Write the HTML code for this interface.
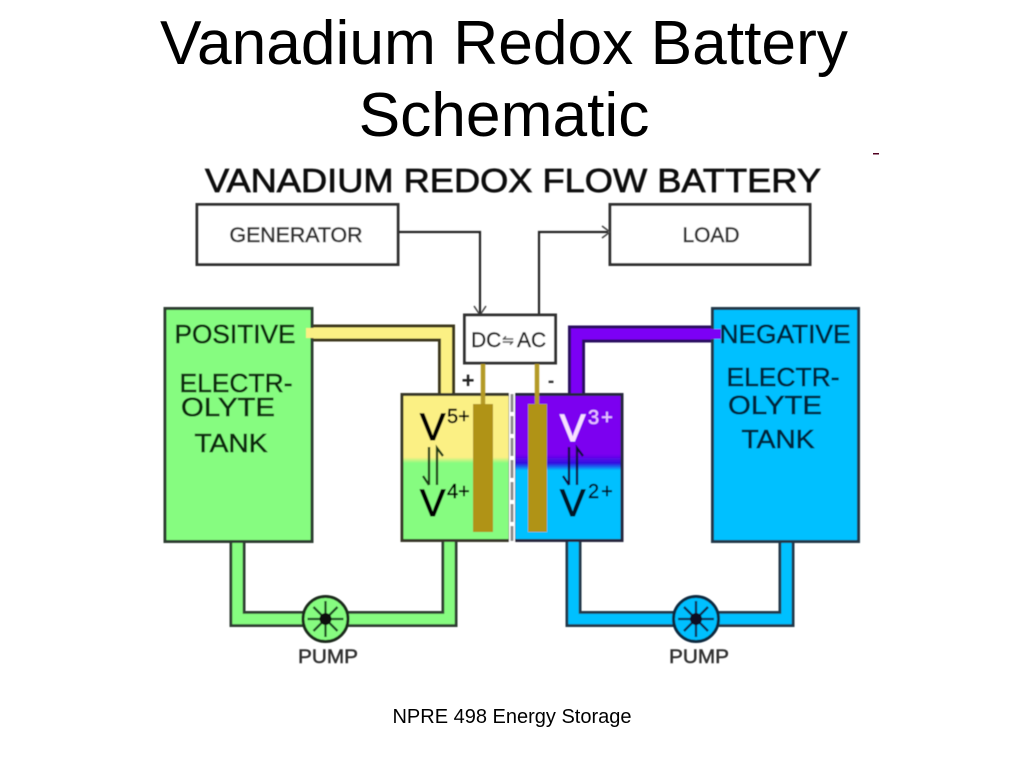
<!DOCTYPE html>
<html>
<head>
<meta charset="utf-8">
<style>
html,body{margin:0;padding:0;background:#fff;width:1024px;height:768px;overflow:hidden}
svg{display:block;position:absolute;left:0;top:0}
text{font-family:"Liberation Sans",sans-serif}
</style>
</head>
<body>
<svg width="1024" height="768" viewBox="0 0 1024 768" xmlns="http://www.w3.org/2000/svg">
<defs>
<filter id="b" x="-5%" y="-5%" width="110%" height="110%"><feGaussianBlur stdDeviation="0.5"/></filter>
<linearGradient id="gl" x1="0" y1="0" x2="0" y2="1">
<stop offset="0.43" stop-color="#fbf084"/><stop offset="0.47" stop-color="#86fc80"/>
</linearGradient>
<linearGradient id="gr" x1="0" y1="0" x2="0" y2="1">
<stop offset="0.41" stop-color="#7b00f0"/><stop offset="0.47" stop-color="#3210e0"/><stop offset="0.52" stop-color="#00c0ff"/>
</linearGradient>
</defs>

<text x="504" y="64" font-size="62.300" text-anchor="middle" fill="#000">Vanadium Redox Battery</text>
<text x="504" y="136" font-size="62.300" text-anchor="middle" fill="#000">Schematic</text>
<rect x="873" y="153" width="6" height="1.500" fill="#500020"/>
<text x="512" y="723" font-size="20" text-anchor="middle" fill="#000">NPRE 498 Energy Storage</text>

<g filter="url(#b)">
<text x="513" y="192" font-size="33" text-anchor="middle" fill="#111" stroke="#111" stroke-width="0.700" textLength="616" lengthAdjust="spacingAndGlyphs">VANADIUM REDOX FLOW BATTERY</text>

<!-- boxes -->
<rect x="197" y="204.500" width="201" height="60" fill="#fff" stroke="#303030" stroke-width="3"/>
<rect x="610" y="204.500" width="200" height="60" fill="#fff" stroke="#303030" stroke-width="3"/>
<text x="296" y="242" font-size="21" text-anchor="middle" fill="#333" stroke="#333" stroke-width="0.600" textLength="133" lengthAdjust="spacingAndGlyphs">GENERATOR</text>
<text x="711" y="242" font-size="21" text-anchor="middle" fill="#333" stroke="#333" stroke-width="0.600" textLength="57" lengthAdjust="spacingAndGlyphs">LOAD</text>

<!-- wires -->
<path d="M399 232H480V314" fill="none" stroke="#222" stroke-width="2.200"/>
<path d="M474 306L480 315L486 306" fill="none" stroke="#444" stroke-width="1.500"/>
<path d="M539 315V232H608" fill="none" stroke="#222" stroke-width="2.200"/>
<path d="M602 226L610 232L602 238" fill="none" stroke="#444" stroke-width="1.500"/>

<!-- yellow pipe -->
<path d="M312 333H446.500V394" fill="none" stroke="#3c381a" stroke-width="17"/>
<path d="M306 333H446.500V394" fill="none" stroke="#fbf084" stroke-width="11"/>
<!-- purple pipe -->
<path d="M712 334H576.500V394" fill="none" stroke="#2a0860" stroke-width="17"/>
<path d="M720 334H576.500V394" fill="none" stroke="#7b00f5" stroke-width="11"/>

<!-- bottom pipes left -->
<path d="M237.500 542V619H449.500V542" fill="none" stroke="#2e3c30" stroke-width="16"/>
<path d="M237.500 538V619H449.500V538" fill="none" stroke="#86fc80" stroke-width="10.500"/>
<!-- bottom pipes right -->
<path d="M573.500 542V619H786.500V542" fill="none" stroke="#203848" stroke-width="16"/>
<path d="M573.500 538V619H786.500V538" fill="none" stroke="#00c0ff" stroke-width="10.500"/>

<!-- tanks -->
<rect x="165" y="308.500" width="147" height="233" fill="#86fc80" stroke="#2e3c30" stroke-width="3"/>
<rect x="712.500" y="308.500" width="146" height="233" fill="#00c0ff" stroke="#203848" stroke-width="3"/>
<path d="M306 328H314V338H306Z" fill="#fbf084"/>
<path d="M710 329H721V339H710Z" fill="#7b00f5"/>

<!-- cell -->
<rect x="402" y="394.500" width="108" height="146" fill="url(#gl)" stroke="#38382a" stroke-width="3"/>
<rect x="514" y="394.500" width="108" height="146" fill="url(#gr)" stroke="#26263c" stroke-width="3"/>
<rect x="509" y="393" width="6" height="149" fill="#fff"/>
<path d="M512 394V541" stroke="#8c8c8c" stroke-width="3" stroke-dasharray="18 4" fill="none"/>

<!-- DC/AC -->
<rect x="464.500" y="315" width="91" height="48" fill="#fff" stroke="#303030" stroke-width="3"/>
<text x="471" y="347" font-size="21" fill="#222" stroke="#222" stroke-width="0.400">DC</text>
<text x="508" y="345" font-size="14" text-anchor="middle" fill="#555" stroke="#555" stroke-width="0.400">⇋</text>
<text x="517" y="347" font-size="21" fill="#222" stroke="#222" stroke-width="0.400">AC</text>
<path d="M483 364V404" stroke="#b49a28" stroke-width="4.500"/>
<path d="M537 364V404" stroke="#b49a28" stroke-width="4.500"/>
<rect x="473" y="404" width="20" height="128" fill="#b09312"/>
<rect x="528" y="404" width="19" height="128" fill="#b09312"/>
<text x="468" y="388" font-size="22" font-weight="bold" text-anchor="middle" fill="#222">+</text>
<text x="551" y="387" font-size="19" font-weight="bold" text-anchor="middle" fill="#333">-</text>

<!-- cell labels -->
<g stroke-width="1">
<text x="420" y="440" font-size="38" fill="#000" stroke="#000">V</text>
<text x="447" y="423" font-size="20" fill="#000" stroke="#000" stroke-width="0.400">5+</text>
<text x="420" y="516" font-size="38" fill="#000" stroke="#000">V</text>
<text x="447" y="498" font-size="20" fill="#000" stroke="#000" stroke-width="0.400">4+</text>
<text x="560" y="441" font-size="38" fill="#f8e0ff" stroke="#f8e0ff">V</text>
<text x="588" y="424" font-size="20" fill="#e8c0ff" stroke="#e8c0ff" stroke-width="0.400" letter-spacing="2">3+</text>
<text x="560" y="516" font-size="38" fill="#021428" stroke="#021428">V</text>
<text x="588" y="498" font-size="20" fill="#021428" stroke="#021428" stroke-width="0.400" letter-spacing="2">2+</text>
</g>
<path d="M429 485V447M437 485V448L443 456M429 485L423 476" fill="none" stroke="#1c3a18" stroke-width="2.300"/>
<path d="M569 485V447M577 485V448L583 456M569 485L563 476" fill="none" stroke="#0a0a40" stroke-width="2.300"/>

<!-- tank labels -->
<g fill="#0c2c10" stroke="#0c2c10" stroke-width="0.600" font-size="26" text-anchor="middle">
<text x="235" y="343" textLength="121" lengthAdjust="spacingAndGlyphs">POSITIVE</text>
<text x="236" y="392" textLength="113" lengthAdjust="spacingAndGlyphs">ELECTR-</text>
<text x="228" y="416" textLength="94" lengthAdjust="spacingAndGlyphs">OLYTE</text>
<text x="231" y="452" textLength="73" lengthAdjust="spacingAndGlyphs">TANK</text>
</g>
<g fill="#02263c" stroke="#02263c" stroke-width="0.600" font-size="26" text-anchor="middle">
<text x="785" y="343" textLength="131" lengthAdjust="spacingAndGlyphs">NEGATIVE</text>
<text x="783" y="386" textLength="113" lengthAdjust="spacingAndGlyphs">ELECTR-</text>
<text x="775" y="414" textLength="94" lengthAdjust="spacingAndGlyphs">OLYTE</text>
<text x="778" y="448" textLength="73" lengthAdjust="spacingAndGlyphs">TANK</text>
</g>

<!-- pumps -->
<g transform="translate(325.500 619)">
<circle r="22.500" fill="#86fc80" stroke="#1c2a1c" stroke-width="3"/>
<path d="M-18 0H18M0-18V18M-12-12L12 12M-12 12L12-12" stroke="#1c4a20" stroke-width="2.300"/>
<circle r="6" fill="#111"/>
</g>
<g transform="translate(696 619)">
<circle r="22.500" fill="#00c0ff" stroke="#102a40" stroke-width="3"/>
<path d="M-18 0H18M0-18V18M-12-12L12 12M-12 12L12-12" stroke="#082c50" stroke-width="2.300"/>
<circle r="6" fill="#0a1020"/>
</g>
<text x="328" y="663" font-size="19" text-anchor="middle" fill="#333" stroke="#333" stroke-width="0.500" textLength="60" lengthAdjust="spacingAndGlyphs">PUMP</text>
<text x="699" y="663" font-size="19" text-anchor="middle" fill="#333" stroke="#333" stroke-width="0.500" textLength="60" lengthAdjust="spacingAndGlyphs">PUMP</text>
</g>
</svg>
</body>
</html>
